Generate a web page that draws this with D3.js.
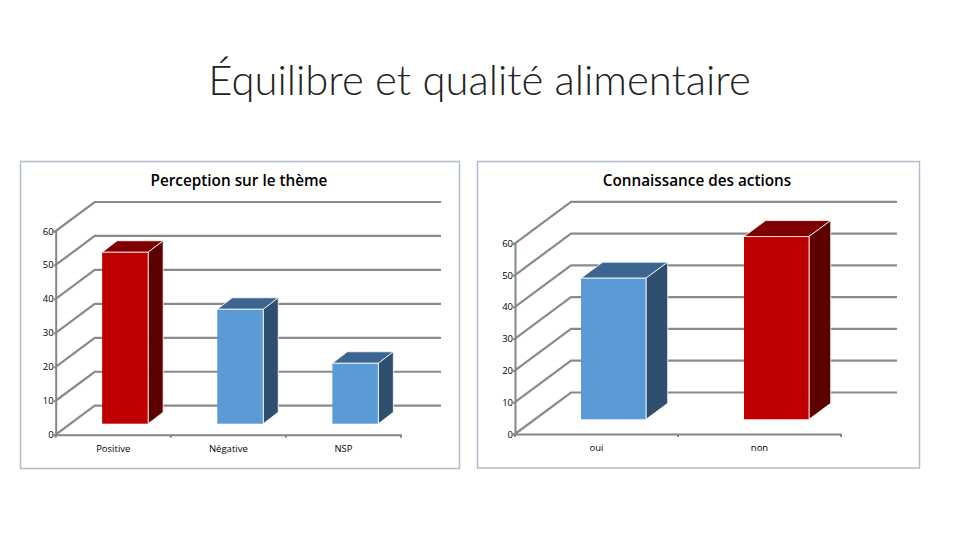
<!DOCTYPE html>
<html>
<head>
<meta charset="utf-8">
<script src="https://cdn.jsdelivr.net/npm/d3@7"></script>
<style>
  html, body { margin: 0; padding: 0; background: #fff; }
  text { fill: #000; }
  .axis text { font-family: "Open Sans", sans-serif; font-size: 9.5px; }
  .axis .domain, .axis .tick line { stroke: #868686; stroke-width: 2px; }
</style>
</head>
<body>
<div id="chart"></div>
<script>
var mainTitle = "Équilibre et qualité alimentaire";
var yTicks = [0, 10, 20, 30, 40, 50, 60];

var titleLeft = "Perception sur le thème";
var categoriesLeft = ["Positive", "Négative", "NSP"];
var valuesLeft = [50.5, 33.7, 17.8];
var kindsLeft = ["red", "blue", "blue"];

var titleRight = "Connaissance des actions";
var categoriesRight = ["oui", "non"];
var valuesRight = [44.4, 57.5];
var kindsRight = ["blue", "red"];

var colors = {
  "red": { "front": "#c00000", "top": "#7f0000", "side": "#5c0000" },
  "blue": { "front": "#5b9bd5", "top": "#3c6690", "side": "#2f4f70" }
};

var svg = d3.select("#chart")
    .append("svg")
    .attr("width", 960)
    .attr("height", 540);

// small helper, d3-selection-multi is not loaded here
d3.selection.prototype.attrs_ = function(m) {
  for (var k in m) this.attr(k, m[k]);
  return this;
};

svg.append("text")
  .attr("x", 479.5)
  .attr("y", 95)
  .attr("text-anchor", "middle")
  .style("font-family", "Lato, sans-serif")
  .style("font-weight", 300)
  .style("font-size", "41.8px")
  .style("fill", "#222")
  .text(mainTitle);

function drawChart(o) {
  // panel
  svg.append("rect")
    .attrs_({ "x": o.panel[0], "y": o.panel[1], "width": o.panel[2], "height": o.panel[3],
      "fill": "#fff", "stroke": "#b0bdcc", "stroke-width": 1.5 });

  svg.append("text")
    .attr("x", o.titleX)
    .attr("y", 186)
    .attr("text-anchor", "middle")
    .style("font-family", "'Open Sans', sans-serif")
    .style("font-weight", 600)
    .style("font-size", "15.3px")
    .text(o.title);

  var y_scale = d3.scaleLinear().domain([0, 60]).range([o.y0, o.y60]);
  var x_scale = d3.scaleBand().domain(o.categories).range([o.x0, o.x1]);

  // back wall and side wall grid lines
  svg.selectAll(null)
    .data(yTicks)
    .enter()
    .append("path")
    .attr("fill", "none")
    .attr("stroke", "#8a8a8a")
    .attr("stroke-width", 2.2)
    .attr("d", function(d) {
      var p = d3.path();
      var yy = y_scale(d);
      p.moveTo(o.x0, yy);
      p.lineTo(o.x0 + o.wallDx, yy - o.wallDy);
      p.lineTo(o.gridEnd, yy - o.wallDy);
      return p.toString();
    });

  var y_axis = d3.axisLeft(y_scale).tickValues(yTicks).tickSize(2).tickPadding(0);
  svg.append("g")
    .attr("class", "axis")
    .attr("transform", "translate(" + o.x0 + ",0)")
    .call(y_axis);

  var x_axis = d3.axisBottom(x_scale).tickSize(0).tickPadding(o.labelPad);
  svg.append("g")
    .attr("class", "axis")
    .attr("transform", "translate(0," + o.y0 + ")")
    .call(x_axis);

  // tick marks sit on the band edges, not the centres
  var edges = o.categories.map(function(c) { return x_scale(c); }).concat([o.x1]);
  svg.selectAll(null)
    .data(edges)
    .enter()
    .append("line")
    .attrs_({ "x1": function(d) { return d; }, "x2": function(d) { return d; },
      "y1": o.y0, "y2": o.y0 + 3, "stroke": "#868686", "stroke-width": 2 });

  // bars: front, top and side faces
  var barData = o.categories.map(function(c, i) {
    return { "name": c, "value": o.values[i], "kind": o.kinds[i] };
  });
  var bars = svg.selectAll(null)
    .data(barData)
    .enter()
    .append("g");

  function poly(pts) {
    return pts.map(function(p) { return p.join(","); }).join(" ");
  }
  var h = function(d) { return y_scale(0) - y_scale(d.value); };
  var left = function(d) { return x_scale(d.name) + x_scale.bandwidth() / 2 + o.barDx - o.barW / 2; };
  var base = o.y0 - o.barLift;

  bars.append("polygon")
    .attr("fill", function(d) { return colors[d.kind].top; })
    .attr("stroke", "#fff").attr("stroke-width", 0.8)
    .attr("points", function(d) {
      var l = left(d), t = base - h(d);
      return poly([[l, t], [l + o.barW, t], [l + o.barW + o.depthX, t - o.depthY], [l + o.depthX, t - o.depthY]]);
    });

  bars.append("polygon")
    .attr("fill", function(d) { return colors[d.kind].side; })
    .attr("stroke", "#fff").attr("stroke-width", 0.8)
    .attr("points", function(d) {
      var r = left(d) + o.barW, t = base - h(d);
      return poly([[r, t], [r + o.depthX, t - o.depthY], [r + o.depthX, base - o.depthY], [r, base]]);
    });

  bars.append("rect")
    .attr("fill", function(d) { return colors[d.kind].front; })
    .attr("x", left)
    .attr("y", function(d) { return base - h(d); })
    .attr("width", o.barW)
    .attr("height", h);
  bars.append("path")
    .attr("fill", "none")
    .attr("stroke", "#fff").attr("stroke-width", 0.8)
    .attr("d", function(d) {
      var l = left(d), t = base - h(d);
      return "M" + l + "," + t + "H" + (l + o.barW) + "V" + base;
    });
}

drawChart({
  "title": titleLeft, "categories": categoriesLeft, "values": valuesLeft, "kinds": kindsLeft,
  "panel": [20.5, 161.5, 439, 307], "titleX": 239, "labelPad": 11,
  "x0": 55.7, "x1": 401, "y0": 434.7, "y60": 231,
  "wallDx": 39, "wallDy": 29, "gridEnd": 441,
  "barW": 46, "barDx": 11.9, "barLift": 11, "depthX": 15, "depthY": 11.5
});

drawChart({
  "title": titleRight, "categories": categoriesRight, "values": valuesRight, "kinds": kindsRight,
  "panel": [477.5, 161.5, 442, 306.5], "titleX": 697, "labelPad": 10,
  "x0": 515, "x1": 841, "y0": 434, "y60": 243.3,
  "wallDx": 56, "wallDy": 41.5, "gridEnd": 897,
  "barW": 65, "barDx": 17, "barLift": 14.7, "depthX": 21.7, "depthY": 16
});
</script>
</body>
</html>
